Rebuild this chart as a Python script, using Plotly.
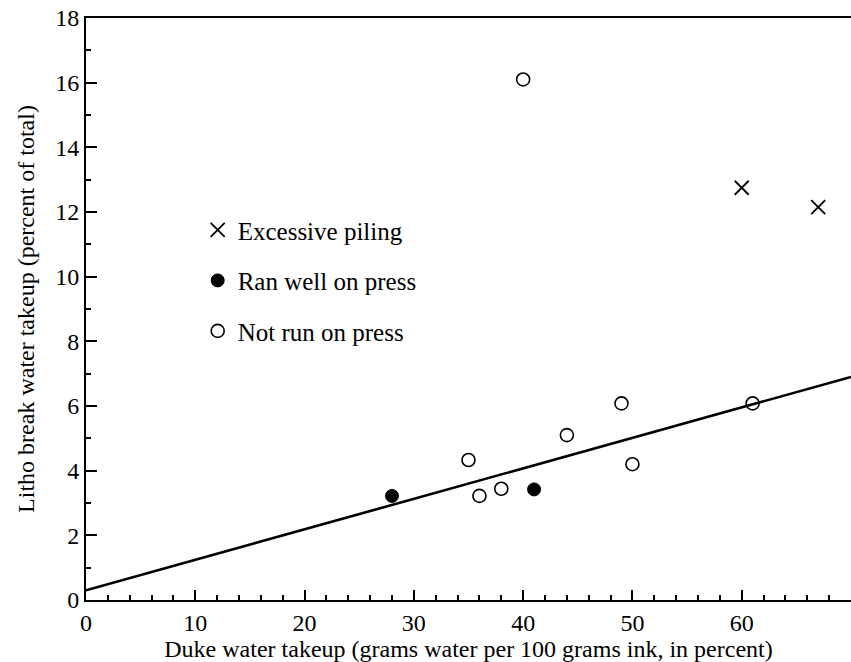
import plotly.graph_objects as go

# Data
piling_x = [60, 67]
piling_y = [12.75, 12.15]
ranwell_x = [28, 41]
ranwell_y = [3.22, 3.42]
notrun_x = [35, 36, 38, 40, 44, 49, 50, 61]
notrun_y = [4.33, 3.22, 3.44, 16.1, 5.1, 6.08, 4.2, 6.08]
fit_x = [0, 70]
fit_y = [0.3, 6.9]

FONT = "Liberation Serif, Times New Roman, serif"

fig = go.Figure()
fig.add_trace(go.Scatter(x=fit_x, y=fit_y, mode="lines",
                         line=dict(color="black", width=2.6),
                         showlegend=False, hoverinfo="skip"))
fig.add_trace(go.Scatter(x=piling_x, y=piling_y, mode="markers", name="Excessive piling",
                         legendgroup="a",
                         marker=dict(symbol="x-thin", size=14, color="black",
                                     line=dict(color="black", width=1.8))))
fig.add_trace(go.Scatter(x=ranwell_x, y=ranwell_y, mode="markers", name="Ran well on press",
                         legendgroup="b",
                         marker=dict(symbol="circle", size=13, color="black",
                                     line=dict(color="black", width=1))))
fig.add_trace(go.Scatter(x=notrun_x, y=notrun_y, mode="markers", name="Not run on press",
                         legendgroup="c",
                         marker=dict(symbol="circle-open", size=13, color="black",
                                     line=dict(color="black", width=1.6))))

fig.update_layout(
    width=851, height=662,
    margin=dict(l=86, r=0, t=18, b=62),
    paper_bgcolor="white", plot_bgcolor="white",
    font=dict(family=FONT, size=24, color="black"),
    showlegend=True,
    legend=dict(x=0.146, y=0.675, xanchor="left", yanchor="top",
                bgcolor="rgba(0,0,0,0)", font=dict(family=FONT, size=25),
                traceorder="grouped", tracegroupgap=15, itemwidth=30),
    xaxis=dict(range=[0, 70], tickvals=[0, 10, 20, 30, 40, 50, 60],
               automargin=False,
               ticks="inside", ticklen=10, tickwidth=1.5, tickcolor="black",
               minor=dict(dtick=2, ticks="inside", ticklen=5, tickwidth=1.5, tickcolor="black"),
               showline=True, linecolor="black", linewidth=2, mirror=True,
               showgrid=False, zeroline=False,
               tickfont=dict(family=FONT, size=24),
               title=dict(text="Duke water takeup (grams water per 100 grams ink, in percent)",
                          font=dict(family=FONT, size=24), standoff=5)),
    yaxis=dict(range=[0, 18], tickvals=[0, 2, 4, 6, 8, 10, 12, 14, 16, 18],
               automargin=False,
               ticks="inside", ticklen=11, tickwidth=1.5, tickcolor="black",
               minor=dict(dtick=1, ticks="inside", ticklen=5, tickwidth=1.5, tickcolor="black"),
               showline=True, linecolor="black", linewidth=2,
               showgrid=False, zeroline=False,
               tickfont=dict(family=FONT, size=24),
               title=dict(text="Litho break water takeup (percent of total)",
                          font=dict(family=FONT, size=24), standoff=14)),
)

fig.write_html(
    "out.html",
    config={"displayModeBar": False},
    post_script="document.body.style.margin='0px';document.body.style.overflow='hidden';",
)
